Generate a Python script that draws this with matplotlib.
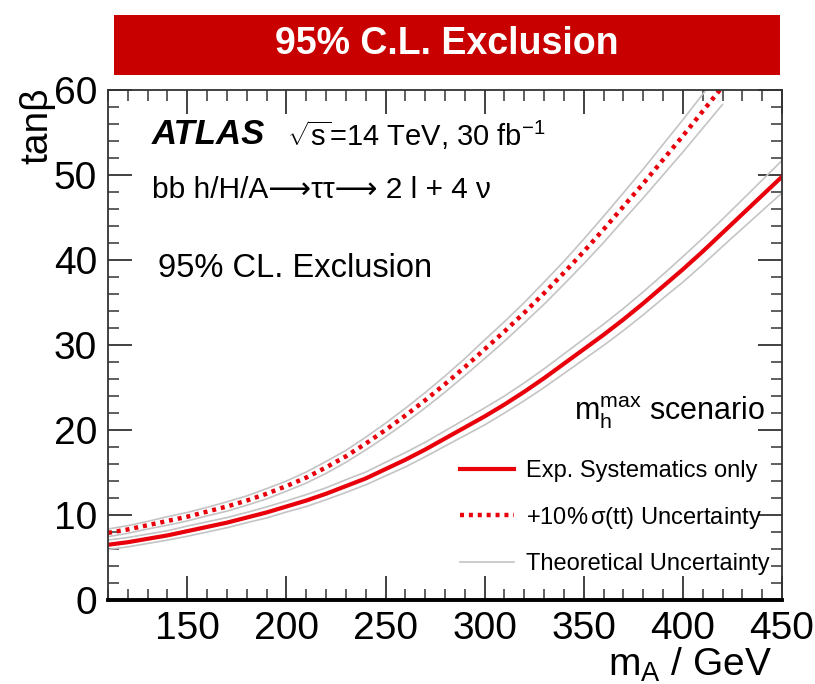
import numpy as np
import matplotlib
matplotlib.use("Agg")
import matplotlib.pyplot as plt
from matplotlib.lines import Line2D
from matplotlib.patches import Rectangle
from matplotlib.ticker import MultipleLocator

plt.rcParams['font.family'] = ['Liberation Sans', 'DejaVu Sans']
plt.rcParams['mathtext.fontset'] = 'custom'
plt.rcParams['mathtext.rm'] = 'Liberation Sans'
plt.rcParams['mathtext.it'] = 'Liberation Sans'

# Expected exclusion, experimental systematics only
m_exp = [110, 120, 130, 140, 150, 160, 170, 180, 190, 200,
         210, 220, 230, 240, 250, 260, 270, 280, 290, 300,
         310, 320, 330, 340, 350, 360, 370, 380, 390, 400,
         410, 420, 430, 440, 450]
tb_exp = [6.5, 6.8, 7.2, 7.6, 8.1, 8.6, 9.1, 9.7, 10.3, 11.0,
          11.7, 12.5, 13.4, 14.3, 15.4, 16.5, 17.7, 19.0, 20.3, 21.6,
          23.0, 24.5, 26.1, 27.8, 29.5, 31.2, 33.0, 34.9, 36.9, 38.9,
          41.0, 43.2, 45.4, 47.6, 49.8]
band_exp = [0.55, 0.55, 0.55, 0.55, 0.6, 0.6, 0.6, 0.6, 0.65, 0.65,
            0.7, 0.7, 0.75, 0.75, 0.8, 0.85, 0.85, 0.9, 0.95, 1.0,
            1.0, 1.05, 1.1, 1.15, 1.2, 1.25, 1.3, 1.35, 1.4, 1.5,
            1.55, 1.6, 1.7, 1.8, 1.9]

# Expected exclusion with +10% ttbar cross-section uncertainty
m_tt = [110, 120, 130, 140, 150, 160, 170, 180, 190, 200,
        210, 220, 230, 240, 250, 260, 270, 280, 290, 300,
        310, 320, 330, 340, 350, 360, 370, 380, 390, 400,
        410, 420]
tb_tt = [7.9, 8.3, 8.8, 9.3, 9.8, 10.4, 11.0, 11.7, 12.5, 13.4,
         14.4, 15.6, 16.9, 18.4, 20.0, 21.7, 23.5, 25.4, 27.4, 29.5,
         31.6, 33.8, 36.1, 38.5, 41.0, 43.6, 46.3, 49.0, 51.8, 54.6,
         57.5, 60.4]
band_tt = [0.45, 0.45, 0.45, 0.5, 0.5, 0.5, 0.55, 0.55, 0.6, 0.6,
           0.65, 0.7, 0.7, 0.75, 0.8, 0.85, 0.9, 0.95, 1.0, 1.1,
           1.15, 1.2, 1.3, 1.35, 1.45, 1.55, 1.6, 1.7, 1.8, 1.9,
           2.0, 2.1]

x_ticks = [150, 200, 250, 300, 350, 400, 450]
y_ticks = [0, 10, 20, 30, 40, 50, 60]

legend_labels = ["Exp. Systematics only",
                 "+10%$\\,\\sigma$(tt) Uncertainty",
                 "Theoretical Uncertainty"]

RED = "#e8000b"
GREY = "#c4c4c4"
DOTS = (0, (0.9, 1.1))

fig = plt.figure(figsize=(8.15, 6.84), dpi=100)
ax = fig.add_axes([0.1325, 0.1228, 0.8270, 0.7456])

for m, tb, bw in ((m_exp, tb_exp, band_exp), (m_tt, tb_tt, band_tt)):
    m = np.array(m); tb = np.array(tb); bw = np.array(bw)
    ax.plot(m, tb + bw, color=GREY, lw=1.2)
    ax.plot(m, tb - bw, color=GREY, lw=1.2)

ax.plot(m_exp, tb_exp, color=RED, lw=3.0)
ax.plot(m_tt, tb_tt, color=RED, lw=3.2, linestyle=DOTS)

ax.set_xlim(110, 450)
ax.set_ylim(0, 60)
ax.set_xticks(x_ticks)
ax.set_yticks(y_ticks)
ax.xaxis.set_minor_locator(MultipleLocator(10))
ax.yaxis.set_minor_locator(MultipleLocator(2))
ax.tick_params(which='both', direction='in', top=True, right=True,
               labelsize=28, pad=8, color='#333333')
ax.tick_params(which='major', length=17, width=1.3)
ax.tick_params(which='minor', length=8, width=1.1)
for s in ax.spines.values():
    s.set_linewidth(1.3)
    s.set_color('#333333')
ax.spines['bottom'].set_linewidth(2.8)
ax.spines['bottom'].set_color('black')

ax.set_xlabel("m$_{\\mathregular{A}}$ / GeV", fontsize=28, ha='right', va='baseline')
ax.xaxis.set_label_coords(0.985, -0.148)
ax.set_ylabel("tan\u03b2", fontsize=28, ha='right', va='center')
ax.yaxis.set_label_coords(-0.105, 1.005)

# Annotations inside the frame
ax.text(0.065, 0.912, "ATLAS", transform=ax.transAxes, fontsize=25,
        fontweight='bold', fontstyle='italic', va='center')
ax.text(0.265, 0.912, "$\\sqrt{\\mathregular{s}}$=14 TeV, 30 fb$^{\\mathregular{-1}}$",
        transform=ax.transAxes, fontsize=21, va='center')
ax.text(0.065, 0.804, "bb h/H/A\u27f6\u03c4\u03c4\u27f6 2 l + 4 \u03bd",
        transform=ax.transAxes, fontsize=21.5, va='center',
        family=['Liberation Sans', 'DejaVu Sans'])
ax.text(0.074, 0.651, "95% CL. Exclusion", transform=ax.transAxes,
        fontsize=23.5, va='center')
ax.text(0.975, 0.367, "m$_{\\mathregular{h}}^{\\mathregular{max}}$ scenario",
        transform=ax.transAxes, fontsize=22, va='center', ha='right')

handles = [Line2D([], [], color=RED, lw=3.0),
           Line2D([], [], color=RED, lw=3.2, linestyle=DOTS),
           Line2D([], [], color=GREY, lw=1.2)]
ax.legend(handles, legend_labels, loc='upper left', bbox_to_anchor=(0.522, 0.274),
          frameon=False, fontsize=17, handlelength=2.3, handletextpad=0.5,
          labelspacing=0.95, borderpad=0, borderaxespad=0)

# Header banner
fig.patches.append(Rectangle((114 / 815, 1 - 75 / 684), 666 / 815, 60 / 684,
                             transform=fig.transFigure, facecolor='#c80000',
                             edgecolor='none'))
fig.text(447 / 815, 1 - 44 / 684, "95% C.L. Exclusion", color='white',
         fontsize=27, fontweight='bold', ha='center', va='center')

fig.savefig("out.png", dpi=100)
